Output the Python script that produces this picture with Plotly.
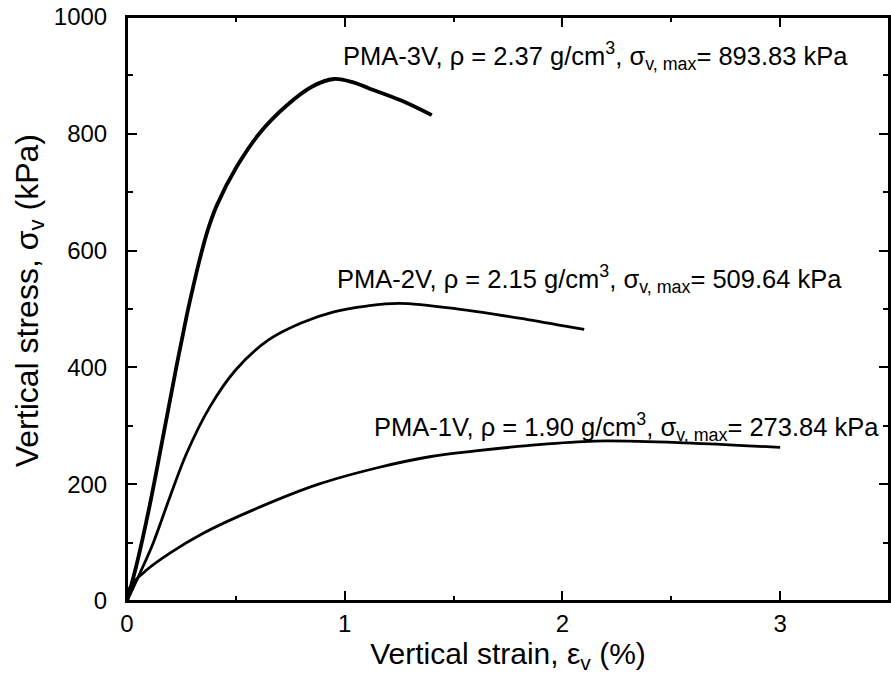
import plotly.graph_objects as go

# PMA-3V
x3 = [0, 0.046, 0.105, 0.165, 0.229, 0.275, 0.302, 0.334, 0.371, 0.412, 0.503, 0.609, 0.732, 0.851, 0.95, 1.04, 1.11, 1.26, 1.40]
y3 = [0, 65, 165, 280, 405, 490, 535, 585, 635, 677, 743, 801, 848, 881, 893.83, 888, 878, 857, 832]
# PMA-2V
x2 = [0, 0.06, 0.12, 0.197, 0.274, 0.38, 0.50, 0.65, 0.80, 0.95, 1.10, 1.25, 1.54, 1.84, 2.10]
y2 = [0, 48, 99, 178, 253, 332, 396, 447, 476, 495, 505, 509.64, 499, 482, 465]
# PMA-1V
x1 = [0, 0.014, 0.09, 0.197, 0.35, 0.58, 0.88, 1.16, 1.39, 1.60, 1.84, 2.15, 2.61, 3.0]
y1 = [0, 24, 53, 82, 116, 156, 200, 229, 247, 257, 266, 273.84, 270, 263]

labels = [
    "PMA-3V, ρ = 2.37 g/cm<sup>3</sup>, σ<sub>v, max</sub>= 893.83 kPa",
    "PMA-2V, ρ = 2.15 g/cm<sup>3</sup>, σ<sub>v, max</sub>= 509.64 kPa",
    "PMA-1V, ρ = 1.90 g/cm<sup>3</sup>, σ<sub>v, max</sub>= 273.84 kPa",
]
label_x = [0.985, 0.955, 1.125]
label_y = [934, 551, 298]

xticks = [0, 1, 2, 3]
yticks = [0, 200, 400, 600, 800, 1000]

x_title = "Vertical strain, ε<sub>v</sub> (%)"
y_title = "Vertical stress, σ<sub>v</sub> (kPa)"

FONT = "Liberation Sans, Arial, sans-serif"

fig = go.Figure()
for xs, ys, w in [(x3, y3, 3.8), (x2, y2, 2.8), (x1, y1, 2.8)]:
    fig.add_trace(go.Scatter(x=xs, y=ys, mode="lines",
                             line=dict(color="black", width=w, shape="spline", smoothing=1.0),
                             showlegend=False, hoverinfo="skip"))

for t, lx, ly in zip(labels, label_x, label_y):
    fig.add_annotation(x=lx, y=ly, xref="x", yref="y", text=t, showarrow=False,
                       xanchor="left", yanchor="middle",
                       font=dict(family=FONT, size=25.5, color="black"))

# y-axis title placed as a rotated annotation to match the reference position
fig.add_annotation(x=-0.128, y=0.514, xref="paper", yref="paper", text=y_title,
                   showarrow=False, textangle=-90, xanchor="center", yanchor="middle",
                   font=dict(family=FONT, size=32, color="black"))

# plot frame
fig.add_shape(type="rect", xref="paper", yref="paper", x0=0, y0=0, x1=1, y1=1,
              line=dict(color="black", width=2), layer="above")

axis_common = dict(
    showgrid=False, zeroline=False, showline=True, linecolor="black", linewidth=2,
    ticks="inside", ticklen=10, tickwidth=2, tickcolor="black", mirror="allticks",
    tickfont=dict(family=FONT, size=24, color="black"), automargin=False,
)
fig.update_xaxes(range=[0, 3.5], tickvals=xticks, ticktext=[str(v) for v in xticks],
                 minor=dict(ticks="inside", ticklen=5, tickwidth=2, tickcolor="black", dtick=0.5, tick0=0),
                 title=dict(text=x_title,
                            font=dict(family=FONT, size=30, color="black"), standoff=2),
                 ticklabelstandoff=0,
                 **axis_common)
fig.update_yaxes(range=[0, 1000], tickvals=yticks, ticktext=[str(v) for v in yticks],
                 minor=dict(ticks="inside", ticklen=6, tickwidth=2, tickcolor="black", dtick=100, tick0=0),
                 ticklabelstandoff=13,
                 **axis_common)

fig.update_layout(width=891, height=693, margin=dict(l=127, r=2, t=17, b=92),
                  paper_bgcolor="white", plot_bgcolor="white",
                  font=dict(family=FONT, color="black"))

fig.write_html("out.html", config={"displayModeBar": False},
               post_script="document.body.style.margin='0';document.body.style.overflow='hidden';")
